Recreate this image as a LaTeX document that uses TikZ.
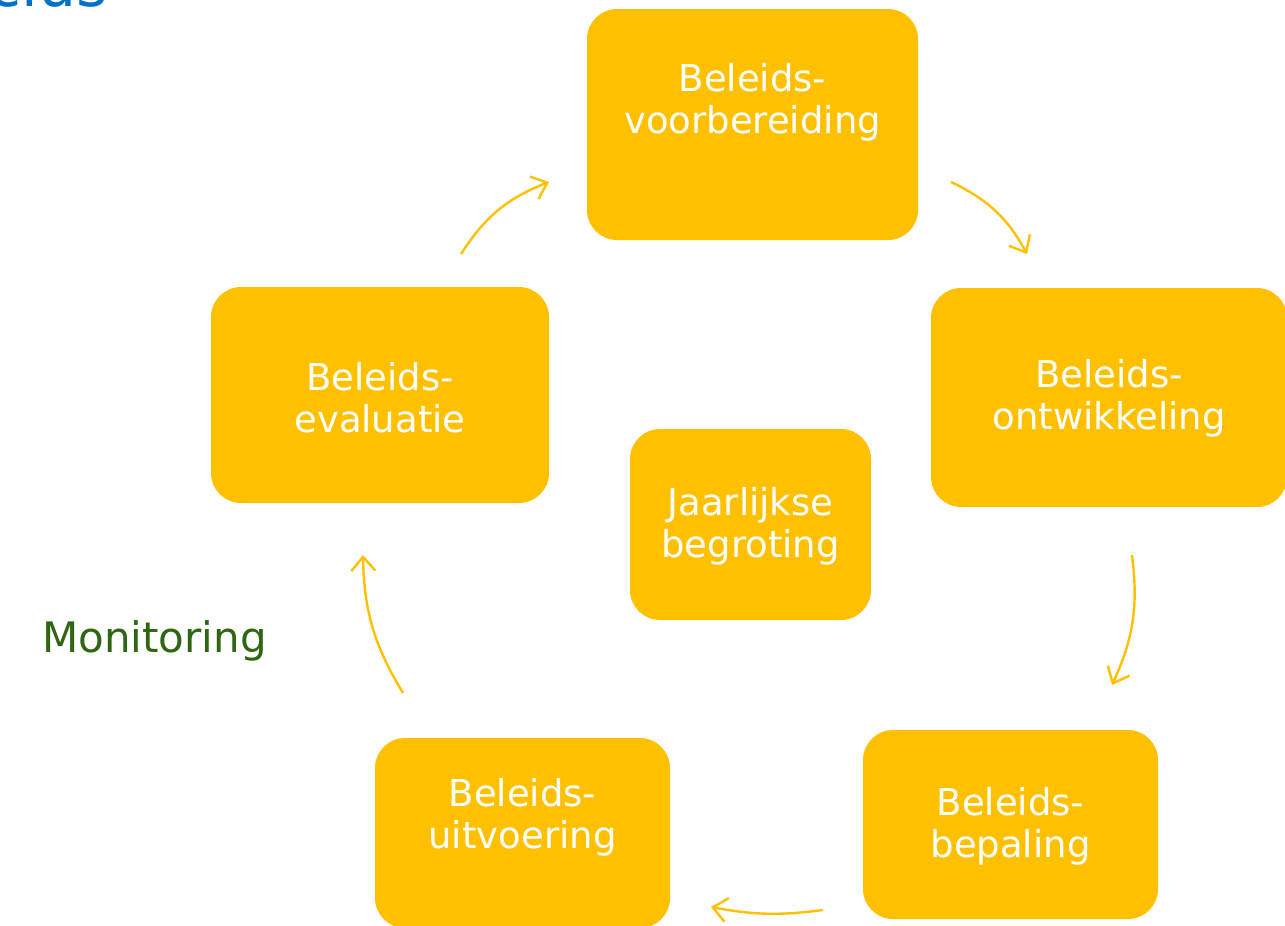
\documentclass[tikz,border=0pt]{standalone}
\usepackage{fontspec}
\setmainfont{DejaVu Sans}
\usetikzlibrary{arrows.meta}
\definecolor{gold}{RGB}{255,192,0}
\definecolor{titleblue}{RGB}{0,114,198}
\definecolor{mongreen}{RGB}{46,102,18}
\begin{document}
\begin{tikzpicture}[x=1pt,y=1pt,
  box/.style={fill=gold, draw=none, rounded corners=30pt, inner sep=0pt},
  lbl/.style={text=white, align=center, inner sep=0pt, font=\fontsize{37}{42}\selectfont},
  flow/.style={draw=gold, line width=2.4pt, -{Straight Barb[length=14pt,width=24pt]}}]
  \useasboundingbox (0,0) rectangle (1285,-926);
  \clip (0,0) rectangle (1285,-926);
  \node [anchor=base east, inner sep=0pt, text=titleblue, font=\fontsize{60}{70}\selectfont] (ttl) at (108,-6) {Beleidscyclus};
  \node [box, minimum width=331pt, minimum height=231pt] (voor) at (752.5,-124.5) {};
  \node [box, minimum width=356pt, minimum height=219pt] (ontw) at (1109,-397.5) {};
  \node [box, minimum width=295pt, minimum height=189pt] (bepa) at (1010.5,-824.5) {};
  \node [box, minimum width=295pt, minimum height=190pt] (uitv) at (522.5,-833) {};
  \node [box, minimum width=338pt, minimum height=216pt] (eval) at (380,-395) {};
  \node [box, minimum width=241pt, minimum height=191pt] (jaar) at (750.5,-524.5) {};
  \node [lbl] (voortxt) at (752.5,-102) {Beleids-\\voorbereiding};
  \node [lbl] (ontwtxt) at (1109,-398) {Beleids-\\ontwikkeling};
  \node [lbl] (bepatxt) at (1010.5,-826) {Beleids-\\bepaling};
  \node [lbl] (uitvtxt) at (522.5,-817) {Beleids-\\uitvoering};
  \node [lbl] (evaltxt) at (380,-398) {Beleids-\\evaluatie};
  \node [lbl] (jaartxt) at (750.5,-526) {Jaarlijkse\\begroting};
  \node [anchor=base west, inner sep=0pt, text=mongreen, font=\fontsize{42}{50}\selectfont] (moni) at (42,-652) {Monitoring};
  \coordinate (a1s) at (461,-254);
  \coordinate (a1e) at (549,-182);
  \coordinate (a2s) at (951,-182);
  \coordinate (a2e) at (1027,-254);
  \coordinate (a3s) at (1132,-555);
  \coordinate (a3e) at (1112,-685);
  \coordinate (a4s) at (823,-910);
  \coordinate (a4e) at (711,-907);
  \coordinate (a5s) at (403,-693);
  \coordinate (a5e) at (363,-555);
  \draw [flow] (a1s) to [bend left=18] (a1e);
  \draw [flow] (a2s) to [bend left=18] (a2e);
  \draw [flow] (a3s) to [bend left=16] (a3e);
  \draw [flow] (a4s) to [bend left=9] (a4e);
  \draw [flow] (a5s) to [bend left=15] (a5e);
\end{tikzpicture}
\end{document}
